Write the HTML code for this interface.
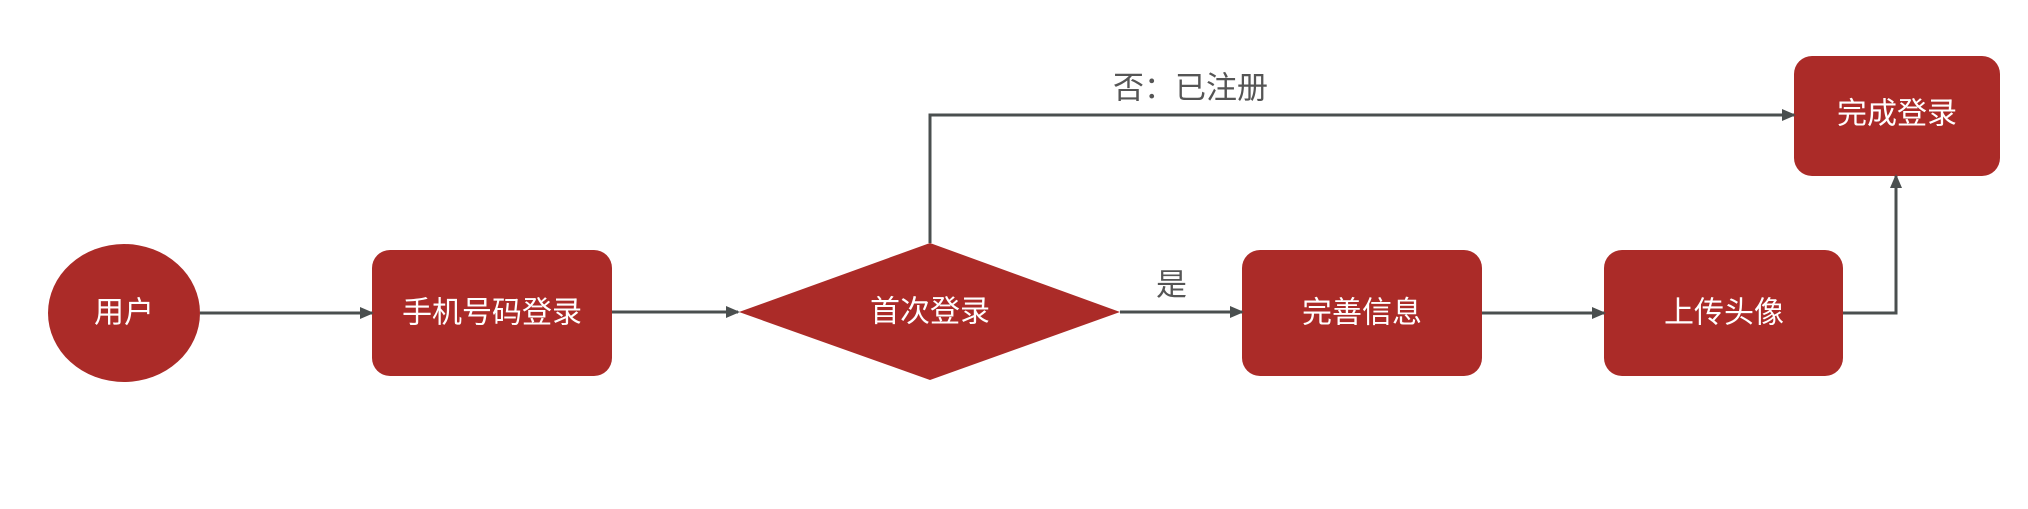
<!DOCTYPE html>
<html><head><meta charset="utf-8"><style>
html,body{margin:0;padding:0;background:#fff;}
svg text{font-family:"Liberation Sans","Noto Sans CJK SC",sans-serif;}
</style></head><body>
<svg width="2028" height="504" viewBox="0 0 2028 504" xmlns="http://www.w3.org/2000/svg">
<defs><marker id="a" markerWidth="14" markerHeight="14" refX="12" refY="7" orient="auto" markerUnits="userSpaceOnUse"><path d="M0,1 L14,7 L0,13 z" fill="#4a4f4f"/></marker></defs>
<g fill="#ab2b28">
<ellipse cx="124" cy="313" rx="76" ry="69"/>
<rect x="372" y="250" width="240" height="126" rx="18"/>
<polygon points="739,312 930,243 1120,312 930,380"/>
<rect x="1242" y="250" width="240" height="126" rx="18"/>
<rect x="1604" y="250" width="239" height="126" rx="18"/>
<rect x="1794" y="56" width="206" height="120" rx="18"/>
</g>
<g stroke="#4a4f4f" stroke-width="3" fill="none">
<line x1="200" y1="313" x2="372" y2="313" marker-end="url(#a)"/>
<line x1="612" y1="312" x2="738" y2="312" marker-end="url(#a)"/>
<line x1="1120" y1="312" x2="1242" y2="312" marker-end="url(#a)"/>
<line x1="1482" y1="313" x2="1604" y2="313" marker-end="url(#a)"/>
<polyline points="930,243 930,115 1794,115" marker-end="url(#a)"/>
<polyline points="1843,313 1896,313 1896,176" marker-end="url(#a)"/>
</g>
<g fill="#fff" font-size="30" text-anchor="middle" dominant-baseline="central">
<text x="124" y="313">用户</text>
<text x="492" y="313">手机号码登录</text>
<text x="930" y="312">首次登录</text>
<text x="1362" y="313">完善信息</text>
<text x="1724" y="313">上传头像</text>
<text x="1897" y="114">完成登录</text>
</g>
<g fill="#555" font-size="31" dominant-baseline="central">
<text x="1113" y="88">否：已注册</text>
<text x="1156" y="285">是</text>
</g>
</svg>
</body></html>
